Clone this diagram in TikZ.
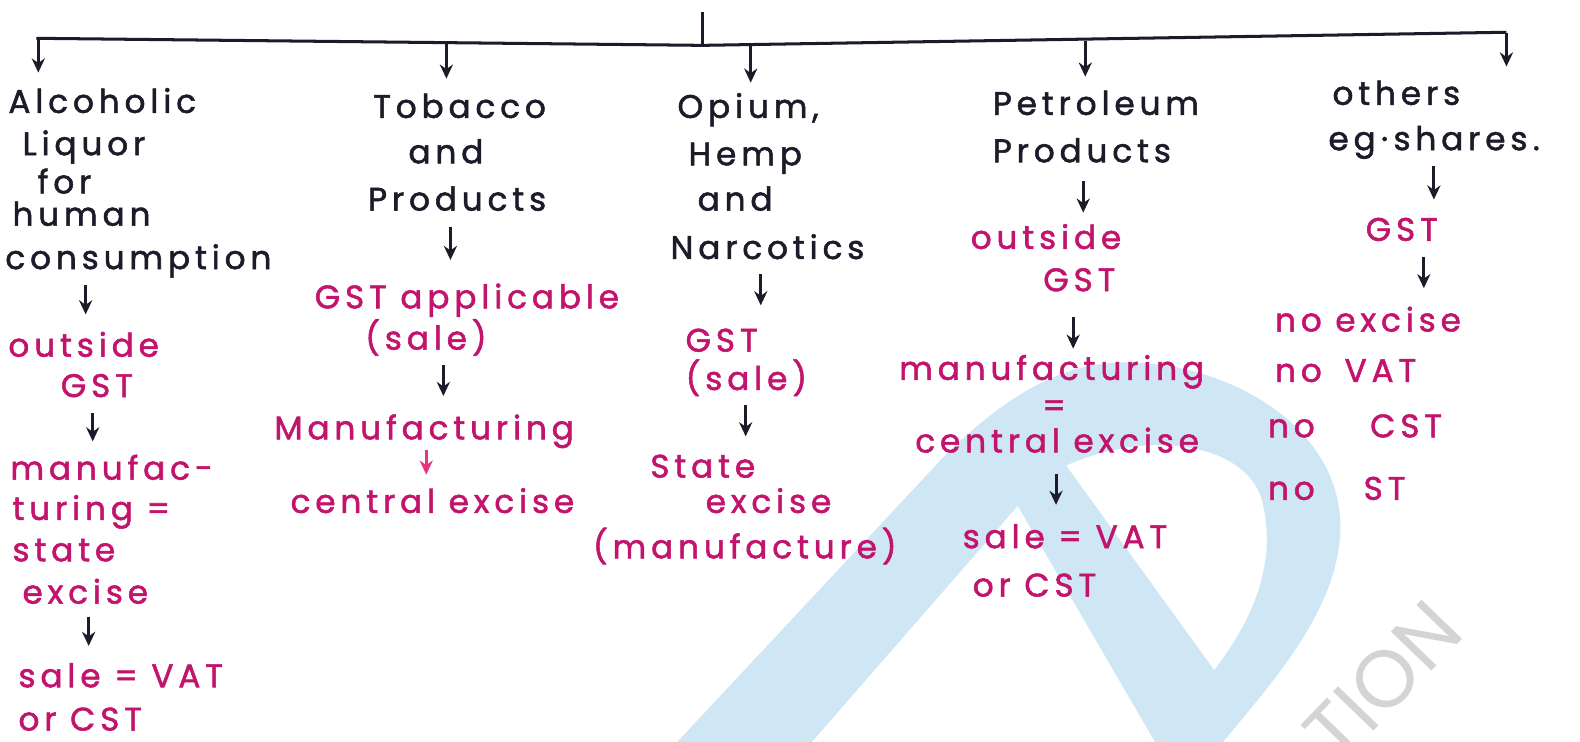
\documentclass[tikz,border=0pt]{standalone}
\usepackage{fontspec}
\setmainfont{Poppins}[LetterSpace=15,FakeBold=1.6]
\newfontfamily\markfont{Poppins}
\usetikzlibrary{arrows.meta}
\definecolor{ink}{HTML}{1B1B2A}
\definecolor{pinkink}{HTML}{C2146C}
\definecolor{rosearrow}{HTML}{E8337F}
\definecolor{wmblue}{HTML}{CFE6F5}
\definecolor{wmgrey}{HTML}{D4D4D4}
% short vertical arrow between two named coordinates
\newcommand\mkarrow[5][arr]{%
  \coordinate (#2s) at (#3,#4);
  \coordinate (#2e) at (#3,#5);
  \draw[#1] (#2s) -- (#2e);}
\begin{document}
\begin{tikzpicture}[x=0.5pt,y=-0.5pt,
  blk/.style={anchor=base west, inner sep=0pt, text=ink, font=\fontsize{16.2}{16.2}\selectfont},
  mag/.style={blk, text=pinkink},
  arr/.style={draw=ink, line width=1.5pt, -{Stealth[length=7pt,width=6.5pt]}},
  pinkarr/.style={arr, draw=rosearrow},
  trunk/.style={draw=ink, line width=1.5pt},
]
\useasboundingbox (0,0) rectangle (1568,736);
\fill[white] (0,0) rectangle (1568,736);

% ---- watermark logo ----
\begin{scope}
  \clip (0,0) rectangle (1568,736);
  \fill[wmblue, even odd rule]
    % outer outline: rising stroke, bowl over the top, stem back down
    (650,760) -- (935,455)
      .. controls (1000,390) and (1060,355) .. (1130,360)
      .. controls (1230,365) and (1335,430) .. (1330,530)
      .. controls (1325,620) and (1240,700) .. (1195,760)
      -- (1160,760) -- (1010,502) -- (785,760) -- cycle
    % counter of the bowl
    (1058,462) -- (1205,665)
      .. controls (1255,600) and (1265,545) .. (1252,495)
      .. controls (1235,440) and (1140,425) .. (1058,462) -- cycle;
  \node[rotate=46, text=wmgrey, font=\markfont\fontsize{40}{40}\selectfont] (wm) at (1372,676) {TION};
\end{scope}

% ---- main trunk ----
\coordinate (tl) at (36,38);
\coordinate (tm) at (697,45);
\coordinate (tr) at (1495,32);
\coordinate (stub) at (697,12);
\draw[trunk] (tl) -- (tm) -- (tr);
\draw[trunk] (stub) -- (tm);

% branch arrows
\mkarrow{b1}{38}{39}{72}
\mkarrow{b2}{443}{42}{78}
\mkarrow{b3}{745}{45}{82}
\mkarrow{b4}{1077}{41}{76}
\mkarrow{b5}{1495}{33}{66}

% ---- column 1 ----
\node[blk] (a1) at (8,112) {Alcoholic};
\node[blk] (a2) at (22,154) {Liquor};
\node[blk] (a3) at (37,192) {for};
\node[blk] (a4) at (12,224) {human};
\node[blk] (a5) at (5,267) {consumption};
\mkarrow{c1a}{85}{283}{312}
\node[mag] (a6) at (8,354) {outside};
\node[mag] (a7) at (60,394) {GST};
\mkarrow{c1b}{92}{410}{438}
\node[mag] (a8) at (10,476) {manufac-};
\node[mag] (a9) at (12,516) {turing =};
\node[mag] (a10) at (12,557) {state};
\node[mag] (a11) at (22,599) {excise};
\mkarrow{c1c}{88}{612}{641}
\node[mag] (a12) at (18,682) {sale = VAT};
\node[mag] (a13) at (18,725) {or CST};

% ---- column 2 ----
\node[blk] (t1) at (370,117) {Tobacco};
\node[blk] (t2) at (405,162) {and};
\node[blk] (t3) at (365,209) {Products};
\mkarrow{c2a}{447}{225}{258}
\node[mag] (t4) at (312,306) {GST applicable};
\node[mag] (t5) at (362,347) {(sale)};
\mkarrow{c2b}{440}{362}{393}
\node[mag] (t6) at (272,436) {Manufacturing};
\mkarrow[pinkarr]{c2c}{423}{447}{471}
\node[mag] (t7) at (288,509) {central excise};

% ---- column 3 ----
\node[blk] (o1) at (672,117) {Opium,};
\node[blk] (o2) at (683,164) {Hemp};
\node[blk] (o3) at (692,209) {and};
\node[blk] (o4) at (665,257) {Narcotics};
\mkarrow{c3a}{755}{272}{303}
\node[mag] (o5) at (680,349) {GST};
\node[mag] (o6) at (680,387) {(sale)};
\mkarrow{c3b}{740}{402}{433}
\node[mag] (o7) at (645,474) {State};
\node[mag] (o8) at (700,509) {excise};
\node[mag] (o9) at (588,554) {(manufacture)};

% ---- column 4 ----
\node[blk] (p1) at (985,114) {Petroleum};
\node[blk] (p2) at (985,161) {Products};
\mkarrow{c4a}{1075}{180}{211}
\node[mag] (p3) at (963,247) {outside};
\node[mag] (p4) at (1035,289) {GST};
\mkarrow{c4b}{1065}{315}{346}
\node[mag] (p5) at (892,377) {manufacturing};
\node[mag] (p6) at (1034,414) {=};
\node[mag] (p7) at (908,449) {central excise};
\mkarrow{c4c}{1048}{470}{501}
\node[mag] (p8) at (955,544) {sale = VAT};
\node[mag] (p9) at (965,592) {or CST};

% ---- column 5 ----
\node[blk] (s1) at (1322,104) {others};
\node[blk] (s2) at (1318,149) {eg\,·\,shares\,.};
\mkarrow{c5a}{1423}{165}{198}
\node[mag] (s3) at (1355,239) {GST};
\mkarrow{c5b}{1413}{255}{286}
\node[mag] (s4) at (1265,329) {no excise};
\node[mag] (s5) at (1265,379) {no\hspace{0.7em}VAT};
\node[mag] (s6) at (1258,434) {no\hspace{1.7em}CST};
\node[mag] (s7) at (1258,496) {no\hspace{1.5em}ST};
\end{tikzpicture}
\end{document}
